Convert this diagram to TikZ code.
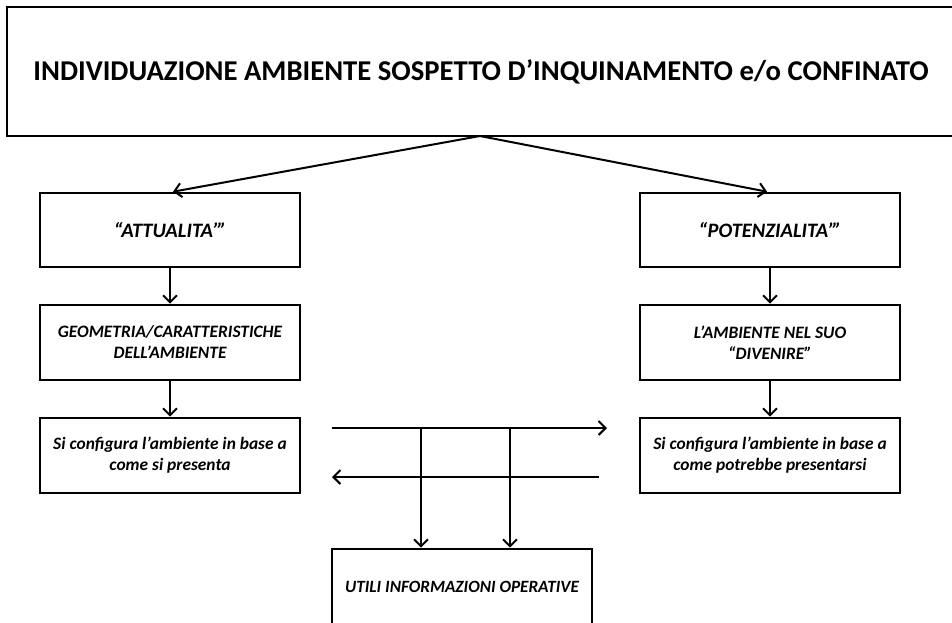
\documentclass[tikz,border=0pt]{standalone}
\usepackage{fontspec}
\setmainfont{Carlito}
\usetikzlibrary{arrows.meta}
\tikzset{
  box/.style={draw=black, line width=2.6pt, rectangle, inner sep=0pt, align=center,
    font=\fontsize{17.4}{21}\selectfont\bfseries\itshape},
  head/.style={box, font=\fontsize{20.5}{24}\selectfont\bfseries\itshape},
  conn/.style={line width=2pt, -{Straight Barb[length=7pt,width=14pt,line width=2pt]}},
  plain/.style={line width=2pt}
}
\begin{document}
\begin{tikzpicture}[x=1pt,y=-1pt]
\useasboundingbox (0,0) rectangle (952,622);
\node[box, minimum width=948pt, minimum height=129pt, font=\fontsize{28.7}{32}\selectfont\bfseries] (top) at (481,71.5)
  {INDIVIDUAZIONE AMBIENTE SOSPETTO D’INQUINAMENTO e/o CONFINATO};
\node[head, minimum width=260pt, minimum height=74pt] (att) at (170,230) {“ATTUALITA’”};
\node[head, minimum width=260pt, minimum height=74pt] (pot) at (770,230) {“POTENZIALITA’”};
\node[box, minimum width=260pt, minimum height=75pt] (geo) at (170,342.5) {GEOMETRIA/CARATTERISTICHE\\DELL’AMBIENTE};
\node[box, minimum width=260pt, minimum height=75pt] (div) at (770,342.5) {L’AMBIENTE NEL SUO\\“DIVENIRE”};
\node[box, minimum width=260pt, minimum height=75pt] (cfl) at (170,455.5) {Si configura l’ambiente in base a\\come si presenta};
\node[box, minimum width=260pt, minimum height=75pt] (cfr) at (770,455.5) {Si configura l’ambiente in base a\\come potrebbe presentarsi};
\node[box, minimum width=260pt, minimum height=76pt, font=\fontsize{17.2}{21}\selectfont\bfseries\itshape] (uti) at (462,587) {UTILI INFORMAZIONI OPERATIVE};

\coordinate (t) at (480,136);
\draw[conn] (t) -- ([xshift=3pt]att.north);
\draw[conn] (t) -- ([xshift=-3pt]pot.north);
\draw[conn] (att) -- (geo);
\draw[conn] (geo) -- (cfl);
\draw[conn] (pot) -- (div);
\draw[conn] (div) -- (cfr);

\coordinate (h1a) at (332,428);
\coordinate (h1b) at (607,428);
\coordinate (h2a) at (599,477);
\coordinate (h2b) at (332,477);
\coordinate (v1) at (421,428);
\coordinate (v2) at (510,428);
\draw[conn] (h1a) -- (h1b);
\draw[conn] (h2a) -- (h2b);
\draw[conn] (v1) -- (v1 |- uti.north);
\draw[conn] (v2) -- (v2 |- uti.north);
\end{tikzpicture}
\end{document}
